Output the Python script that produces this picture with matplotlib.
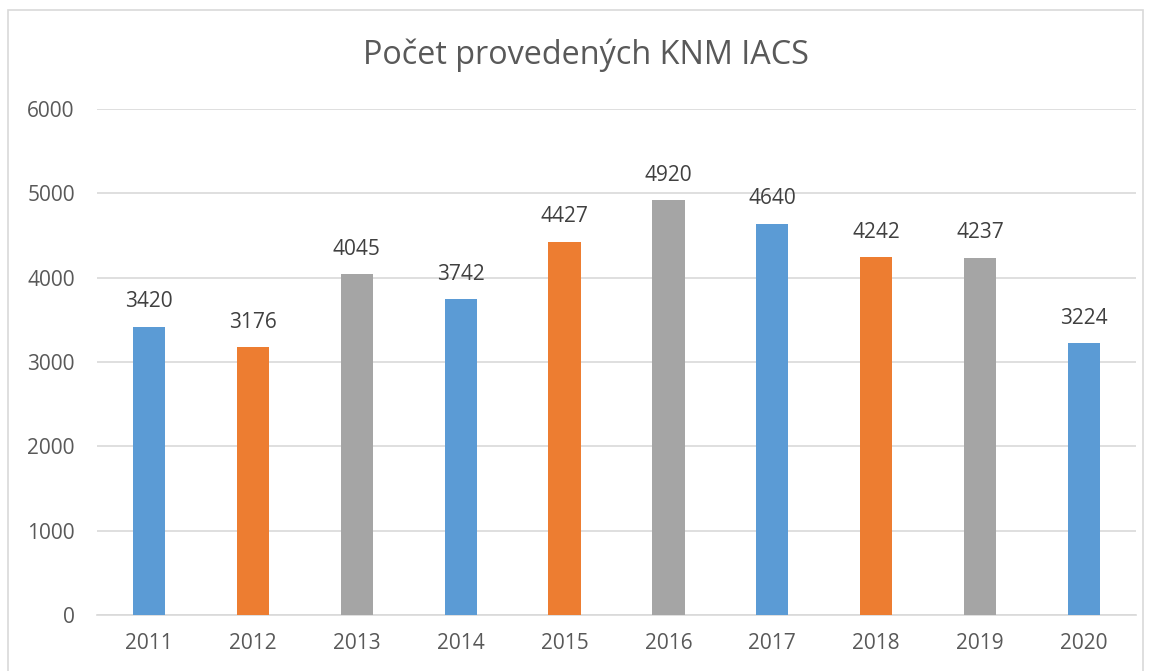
import matplotlib
matplotlib.use('Agg')
import matplotlib.pyplot as plt
from matplotlib.patches import Rectangle

years = ['2011', '2012', '2013', '2014', '2015', '2016', '2017', '2018', '2019', '2020']
counts = [3420, 3176, 4045, 3742, 4427, 4920, 4640, 4242, 4237, 3224]
colors = ['#5B9BD5', '#ED7D31', '#A5A5A5'] * 3 + ['#5B9BD5']

plt.rcParams['font.family'] = ['Open Sans', 'DejaVu Sans']
txt = '#595959'

fig = plt.figure(figsize=(11.55, 6.71), dpi=100)
ax = fig.add_axes([97 / 1155, 1 - 615 / 671, (1136 - 97) / 1155, (615 - 109) / 671])

x = range(len(years))
ax.bar(x, counts, width=0.31, color=colors, zorder=3)
for i, v in enumerate(counts):
    ax.text(i, v + 170, str(v), ha='center', va='bottom', fontsize=15, color='#404040')

ax.set_xlim(-0.5, len(years) - 0.5)
ax.set_ylim(0, 6000)
ax.set_yticks(range(0, 6001, 1000))
ax.set_xticks(list(x))
ax.set_xticklabels(years)
ax.grid(axis='y', color='#D9D9D9', linewidth=1.2, zorder=0)
for s in ['top', 'right', 'left']:
    ax.spines[s].set_visible(False)
ax.spines['bottom'].set_color('#D9D9D9')
ax.spines['bottom'].set_linewidth(1.2)
ax.tick_params(axis='both', length=0, labelsize=15, colors=txt)
ax.tick_params(axis='y', pad=16)
ax.tick_params(axis='x', pad=13)

fig.text(586 / 1155, 1 - 55 / 671, 'Počet provedených KNM IACS', ha='center', va='center',
         fontsize=23.3, color=txt)

fig.patches.append(Rectangle((8 / 1155, -0.1), (1143 - 8) / 1155, 1.1 - 10 / 671,
                             transform=fig.transFigure, fill=False, edgecolor='#D9D9D9',
                             linewidth=1.2))

fig.savefig('out.png', dpi=100)
